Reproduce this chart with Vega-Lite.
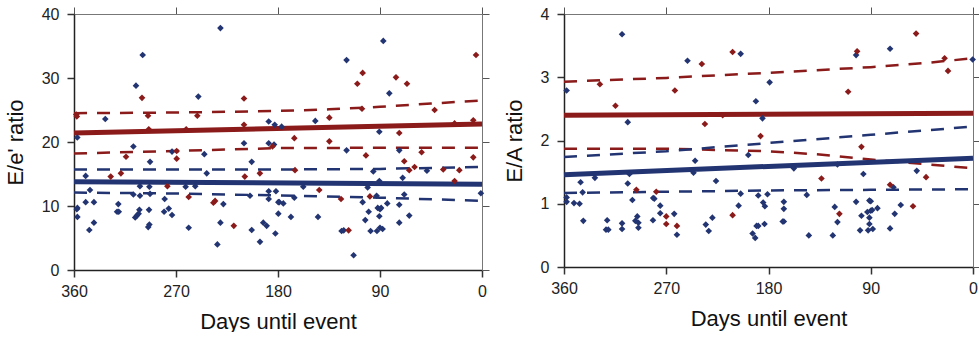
{
  "$schema": "https://vega.github.io/schema/vega-lite/v6.json",
  "background": "white",
  "padding": {"left": 4, "top": 6, "right": 0, "bottom": 0},
  "config": {
    "view": {"stroke": null},
    "font": "Liberation Sans",
    "axis": {
      "grid": false,
      "labelFont": "Liberation Sans", "labelFontSize": 16, "labelColor": "#222", "labelPadding": 6, "labelFlush": false,
      "titleFont": "Liberation Sans", "titleFontSize": 22, "titleFontWeight": "normal", "titleColor": "#111",
      "tickSize": 7, "tickColor": "#333", "tickWidth": 1.5,
      "domainColor": "#222", "domainWidth": 1.5
    }
  },
  "datasets": {
    "ee_pts": [
      {"d":357.1,"v":20.7,"g":"1"},{"d":357,"v":9.7,"g":"1"},{"d":357.5,"v":9.5,"g":"1"},{"d":357,"v":8.3,"g":"1"},{"d":349.7,"v":14.7,"g":"1"},{"d":349.7,"v":10.6,"g":"1"},{"d":345.9,"v":12.5,"g":"1"},{"d":346.5,"v":6.25,"g":"1"},{"d":342.4,"v":10.6,"g":"1"},{"d":342.4,"v":7.4,"g":"1"},
      {"d":332.4,"v":23.6,"g":"1"},{"d":320.9,"v":10.3,"g":"1"},{"d":322,"v":9.1,"g":"1"},{"d":320.5,"v":9.1,"g":"1"},{"d":307.6,"v":19.3,"g":"1"},{"d":305.3,"v":28.8,"g":"1"},{"d":299.4,"v":33.6,"g":"1"},{"d":307.6,"v":11.8,"g":"1"},{"d":301.8,"v":13.1,"g":"1"},{"d":301.8,"v":11.6,"g":"1"},
      {"d":302.3,"v":9.4,"g":"1"},{"d":306,"v":8.2,"g":"1"},{"d":304.5,"v":8.5,"g":"1"},{"d":303,"v":8.8,"g":"1"},{"d":293.5,"v":13.0,"g":"1"},{"d":292.9,"v":16.9,"g":"1"},{"d":292.9,"v":11.9,"g":"1"},{"d":293.8,"v":9.4,"g":"1"},{"d":294.5,"v":6.7,"g":"1"},{"d":293.5,"v":7.1,"g":"1"},
      {"d":280,"v":11.1,"g":"1"},{"d":280.5,"v":9.1,"g":"1"},{"d":276.4,"v":9.6,"g":"1"},{"d":273.5,"v":8.6,"g":"1"},{"d":273.5,"v":18.5,"g":"1"},{"d":261.5,"v":13.0,"g":"1"},{"d":253,"v":13.1,"g":"1"},{"d":258.8,"v":6.6,"g":"1"},{"d":250.3,"v":27.1,"g":"1"},{"d":245,"v":18.1,"g":"1"},
      {"d":242.9,"v":15.1,"g":"1"},{"d":230.8,"v":37.8,"g":"1"},{"d":230.8,"v":7.4,"g":"1"},{"d":228.2,"v":10.3,"g":"1"},{"d":233.5,"v":4.0,"g":"1"},{"d":210,"v":19.8,"g":"1"},{"d":203.2,"v":16.9,"g":"1"},{"d":204.7,"v":11.6,"g":"1"},{"d":203.2,"v":6.25,"g":"1"},{"d":195.9,"v":4.4,"g":"1"},
      {"d":193,"v":7.4,"g":"1"},{"d":190,"v":6.9,"g":"1"},{"d":188.2,"v":23.2,"g":"1"},{"d":188.2,"v":19.8,"g":"1"},{"d":182.9,"v":22.7,"g":"1"},{"d":188.2,"v":12.3,"g":"1"},{"d":188.2,"v":11.1,"g":"1"},{"d":181.8,"v":12.3,"g":"1"},{"d":179.7,"v":10.6,"g":"1"},{"d":179.7,"v":8.8,"g":"1"},
      {"d":182.3,"v":5.7,"g":"1"},{"d":183.5,"v":19.6,"g":"1"},{"d":176.8,"v":22.4,"g":"1"},{"d":147.1,"v":23.3,"g":"1"},{"d":119.5,"v":32.8,"g":"1"},{"d":119.5,"v":18.7,"g":"1"},{"d":90.6,"v":21.6,"g":"1"},{"d":87.1,"v":35.8,"g":"1"},{"d":81.8,"v":27.6,"g":"1"},{"d":73,"v":18.7,"g":"1"},
      {"d":70,"v":14.4,"g":"1"},{"d":68.6,"v":11.8,"g":"1"},{"d":178.9,"v":10.6,"g":"1"},{"d":175.3,"v":10.4,"g":"1"},{"d":168.6,"v":8.3,"g":"1"},{"d":165.6,"v":11.3,"g":"1"},{"d":157.7,"v":13.0,"g":"1"},{"d":144.7,"v":8.3,"g":"1"},{"d":123.9,"v":6.1,"g":"1"},{"d":122,"v":6.2,"g":"1"},
      {"d":113.3,"v":2.3,"g":"1"},{"d":105.3,"v":10.6,"g":"1"},{"d":100.9,"v":12.9,"g":"1"},{"d":100,"v":9.1,"g":"1"},{"d":103,"v":7.8,"g":"1"},{"d":98.3,"v":6.1,"g":"1"},{"d":95.9,"v":15.4,"g":"1"},{"d":93,"v":11.6,"g":"1"},{"d":92,"v":9.7,"g":"1"},{"d":90,"v":9.5,"g":"1"},
      {"d":89,"v":9.7,"g":"1"},{"d":90.6,"v":8.4,"g":"1"},{"d":92.7,"v":6.1,"g":"1"},{"d":90,"v":6.6,"g":"1"},{"d":87.7,"v":6.4,"g":"1"},{"d":90.6,"v":13.9,"g":"1"},{"d":83.6,"v":10.4,"g":"1"},{"d":73,"v":10.2,"g":"1"},{"d":73,"v":7.4,"g":"1"},{"d":64.2,"v":8.5,"g":"1"},
      {"d":48.6,"v":15.5,"g":"1"},{"d":1,"v":12.0,"g":"1"},
      {"d":358,"v":24.3,"g":"2"},{"d":357.5,"v":24.0,"g":"2"},{"d":300,"v":26.9,"g":"2"},{"d":294.7,"v":24.1,"g":"2"},{"d":294,"v":22.0,"g":"2"},{"d":261,"v":22.0,"g":"2"},{"d":314.1,"v":17.7,"g":"2"},{"d":318.6,"v":15.1,"g":"2"},{"d":327.6,"v":14.6,"g":"2"},{"d":277.6,"v":13.1,"g":"2"},
      {"d":269.4,"v":18.6,"g":"2"},{"d":269.4,"v":17.4,"g":"2"},{"d":258.8,"v":11.4,"g":"2"},{"d":251.2,"v":24.1,"g":"2"},{"d":237,"v":10.5,"g":"2"},{"d":235.5,"v":10.8,"g":"2"},{"d":219,"v":6.9,"g":"2"},{"d":210,"v":26.8,"g":"2"},{"d":210,"v":22.7,"g":"2"},{"d":209.3,"v":14.6,"g":"2"},
      {"d":196,"v":15.1,"g":"2"},{"d":184.9,"v":19.3,"g":"2"},{"d":165.6,"v":20.6,"g":"2"},{"d":165,"v":15.6,"g":"2"},{"d":143.6,"v":12.5,"g":"2"},{"d":134.7,"v":23.8,"g":"2"},{"d":134.7,"v":20.1,"g":"2"},{"d":124.4,"v":11.1,"g":"2"},{"d":117.7,"v":6.2,"g":"2"},{"d":110,"v":29.1,"g":"2"},
      {"d":105.3,"v":30.8,"g":"2"},{"d":105.9,"v":25.2,"g":"2"},{"d":102.4,"v":17.9,"g":"2"},{"d":98.9,"v":11.5,"g":"2"},{"d":75.9,"v":30.1,"g":"2"},{"d":66.2,"v":29.1,"g":"2"},{"d":73,"v":21.4,"g":"2"},{"d":68.6,"v":17.0,"g":"2"},{"d":64.2,"v":15.6,"g":"2"},{"d":59.5,"v":16.1,"g":"2"},
      {"d":53.3,"v":18.4,"g":"2"},{"d":41.8,"v":25.0,"g":"2"},{"d":34.2,"v":15.7,"g":"2"},{"d":24.2,"v":13.9,"g":"2"},{"d":24.2,"v":22.9,"g":"2"},{"d":20,"v":15.6,"g":"2"},{"d":7.7,"v":23.4,"g":"2"},{"d":7.7,"v":17.6,"g":"2"},{"d":5.3,"v":33.6,"g":"2"}
    ],
    "ee_lines": [
      {"d":360,"v":21.4,"g":"2","k":"fit"},{"d":0,"v":22.8,"g":"2","k":"fit"},
      {"d":360,"v":24.5,"g":"2","k":"hi"},{"d":270,"v":24.6,"g":"2","k":"hi"},{"d":180,"v":24.85,"g":"2","k":"hi"},{"d":135,"v":25.1,"g":"2","k":"hi"},{"d":90,"v":25.5,"g":"2","k":"hi"},{"d":45,"v":26.0,"g":"2","k":"hi"},{"d":0,"v":26.5,"g":"2","k":"hi"},
      {"d":360,"v":18.2,"g":"2","k":"lo"},{"d":270,"v":18.6,"g":"2","k":"lo"},{"d":180,"v":19.05,"g":"2","k":"lo"},{"d":90,"v":19.1,"g":"2","k":"lo"},{"d":0,"v":19.1,"g":"2","k":"lo"},
      {"d":360,"v":13.8,"g":"1","k":"fit"},{"d":0,"v":13.4,"g":"1","k":"fit"},
      {"d":360,"v":15.7,"g":"1","k":"hi"},{"d":180,"v":15.7,"g":"1","k":"hi"},{"d":90,"v":15.8,"g":"1","k":"hi"},{"d":0,"v":16.1,"g":"1","k":"hi"},
      {"d":360,"v":12.1,"g":"1","k":"lo"},{"d":270,"v":11.95,"g":"1","k":"lo"},{"d":180,"v":11.65,"g":"1","k":"lo"},{"d":90,"v":11.3,"g":"1","k":"lo"},{"d":0,"v":10.8,"g":"1","k":"lo"}
    ],
    "ea_pts": [
      {"d":357.7,"v":2.79,"g":"1"},{"d":308.9,"v":3.68,"g":"1"},{"d":303.9,"v":2.29,"g":"1"},{"d":251.3,"v":3.26,"g":"1"},{"d":204.5,"v":3.37,"g":"1"},{"d":191.1,"v":2.62,"g":"1"},{"d":185.3,"v":2.35,"g":"1"},{"d":197.8,"v":1.77,"g":"1"},{"d":244.6,"v":1.68,"g":"1"},{"d":246,"v":1.49,"g":"1"},
      {"d":302.4,"v":1.47,"g":"1"},{"d":303.9,"v":1.32,"g":"1"},{"d":332.8,"v":1.41,"g":"1"},{"d":345.4,"v":1.34,"g":"1"},{"d":343.6,"v":1.18,"g":"1"},{"d":357.7,"v":1.10,"g":"1"},{"d":357.7,"v":1.03,"g":"1"},{"d":351.2,"v":1.01,"g":"1"},{"d":346.3,"v":1.0,"g":"1"},{"d":343,"v":0.73,"g":"1"},
      {"d":322,"v":0.74,"g":"1"},{"d":323,"v":0.59,"g":"1"},{"d":321,"v":0.59,"g":"1"},{"d":308.9,"v":0.69,"g":"1"},{"d":308.9,"v":0.60,"g":"1"},{"d":299.8,"v":1.06,"g":"1"},{"d":297.2,"v":0.73,"g":"1"},{"d":295.5,"v":0.80,"g":"1"},{"d":294.5,"v":0.70,"g":"1"},{"d":294.5,"v":0.62,"g":"1"},
      {"d":281.7,"v":0.74,"g":"1"},{"d":281.5,"v":1.09,"g":"1"},{"d":280.5,"v":1.08,"g":"1"},{"d":275.3,"v":0.97,"g":"1"},{"d":275.3,"v":0.85,"g":"1"},{"d":263,"v":0.84,"g":"1"},{"d":260.6,"v":0.51,"g":"1"},{"d":235.2,"v":0.67,"g":"1"},{"d":232.6,"v":0.57,"g":"1"},{"d":229.4,"v":0.78,"g":"1"},
      {"d":226.2,"v":1.36,"g":"1"},{"d":206.3,"v":0.97,"g":"1"},{"d":204.5,"v":1.16,"g":"1"},{"d":189,"v":1.13,"g":"1"},{"d":184.7,"v":1.02,"g":"1"},{"d":183.2,"v":0.96,"g":"1"},{"d":180.9,"v":1.15,"g":"1"},{"d":183.5,"v":0.68,"g":"1"},{"d":194,"v":0.53,"g":"1"},{"d":191.7,"v":0.46,"g":"1"},
      {"d":190.5,"v":0.65,"g":"1"},{"d":189,"v":0.65,"g":"1"},{"d":179,"v":2.92,"g":"1"},{"d":102.9,"v":3.35,"g":"1"},{"d":73,"v":3.45,"g":"1"},{"d":0.3,"v":3.28,"g":"1"},{"d":157.7,"v":1.56,"g":"1"},{"d":119.3,"v":1.62,"g":"1"},{"d":96.5,"v":1.47,"g":"1"},{"d":49.5,"v":1.52,"g":"1"},
      {"d":70,"v":1.26,"g":"1"},{"d":166.5,"v":1.03,"g":"1"},{"d":166.5,"v":0.92,"g":"1"},{"d":167.5,"v":0.72,"g":"1"},{"d":166.5,"v":0.72,"g":"1"},{"d":146.3,"v":1.14,"g":"1"},{"d":144.5,"v":0.50,"g":"1"},{"d":123.4,"v":0.50,"g":"1"},{"d":121.7,"v":0.95,"g":"1"},{"d":119.3,"v":0.71,"g":"1"},
      {"d":102.9,"v":1.03,"g":"1"},{"d":98.2,"v":0.81,"g":"1"},{"d":99.4,"v":0.58,"g":"1"},{"d":91.2,"v":1.05,"g":"1"},{"d":90,"v":1.04,"g":"1"},{"d":93,"v":0.87,"g":"1"},{"d":90,"v":0.89,"g":"1"},{"d":88.8,"v":0.90,"g":"1"},{"d":91.2,"v":0.78,"g":"1"},{"d":91.2,"v":0.68,"g":"1"},
      {"d":92.3,"v":0.58,"g":"1"},{"d":88.2,"v":0.60,"g":"1"},{"d":84.1,"v":0.93,"g":"1"},{"d":73,"v":0.61,"g":"1"},{"d":68.9,"v":0.84,"g":"1"},{"d":63.6,"v":0.98,"g":"1"},
      {"d":328.4,"v":2.89,"g":"2"},{"d":314.7,"v":2.55,"g":"2"},{"d":262.4,"v":2.79,"g":"2"},{"d":238.7,"v":3.21,"g":"2"},{"d":236,"v":2.26,"g":"2"},{"d":211.6,"v":3.40,"g":"2"},{"d":220.3,"v":2.40,"g":"2"},{"d":187,"v":2.07,"g":"2"},{"d":296.3,"v":1.22,"g":"2"},{"d":278.8,"v":1.19,"g":"2"},
      {"d":270,"v":0.80,"g":"2"},{"d":270,"v":0.68,"g":"2"},{"d":260.6,"v":0.65,"g":"2"},{"d":211.6,"v":0.82,"g":"2"},{"d":102,"v":3.41,"g":"2"},{"d":50.1,"v":3.69,"g":"2"},{"d":22,"v":3.10,"g":"2"},{"d":25,"v":3.30,"g":"2"},{"d":109.9,"v":2.77,"g":"2"},{"d":98.2,"v":1.90,"g":"2"},
      {"d":133.4,"v":1.40,"g":"2"},{"d":41.3,"v":1.42,"g":"2"},{"d":73,"v":1.30,"g":"2"},{"d":117.6,"v":0.84,"g":"2"},{"d":52.8,"v":0.96,"g":"2"}
    ],
    "ea_lines": [
      {"d":360,"v":2.40,"g":"2","k":"fit"},{"d":0,"v":2.43,"g":"2","k":"fit"},
      {"d":360,"v":2.93,"g":"2","k":"hi"},{"d":270,"v":2.99,"g":"2","k":"hi"},{"d":180,"v":3.07,"g":"2","k":"hi"},{"d":90,"v":3.16,"g":"2","k":"hi"},{"d":45,"v":3.22,"g":"2","k":"hi"},{"d":0,"v":3.30,"g":"2","k":"hi"},
      {"d":360,"v":1.87,"g":"2","k":"lo"},{"d":270,"v":1.87,"g":"2","k":"lo"},{"d":180,"v":1.83,"g":"2","k":"lo"},{"d":135,"v":1.78,"g":"2","k":"lo"},{"d":90,"v":1.70,"g":"2","k":"lo"},{"d":45,"v":1.63,"g":"2","k":"lo"},{"d":0,"v":1.56,"g":"2","k":"lo"},
      {"d":360,"v":1.46,"g":"1","k":"fit"},{"d":0,"v":1.72,"g":"1","k":"fit"},
      {"d":360,"v":1.74,"g":"1","k":"hi"},{"d":270,"v":1.83,"g":"1","k":"hi"},{"d":180,"v":1.96,"g":"1","k":"hi"},{"d":90,"v":2.09,"g":"1","k":"hi"},{"d":0,"v":2.22,"g":"1","k":"hi"},
      {"d":360,"v":1.17,"g":"1","k":"lo"},{"d":270,"v":1.19,"g":"1","k":"lo"},{"d":180,"v":1.21,"g":"1","k":"lo"},{"d":90,"v":1.22,"g":"1","k":"lo"},{"d":0,"v":1.23,"g":"1","k":"lo"}
    ]
  },
  "bounds": "flush",
  "spacing": 82,
  "hconcat": [
    {
      "width": 408, "height": 256,
      "layer": [
        {
          "data": {"name": "ee_lines"},
          "transform": [{"filter": "datum.k !== 'fit'"}],
          "mark": {"type": "line", "strokeDash": [13, 10], "strokeWidth": 2.5},
          "encoding": {
            "x": {"field": "d", "type": "quantitative", "scale": {"domain": [0, 360], "reverse": true, "nice": false},
                  "axis": {"orient": "top", "labels": false, "title": null, "values": [0, 90, 180, 270, 360], "domainColor": "#777", "domainWidth": 1, "tickColor": "#555", "tickWidth": 1}},
            "y": {"field": "v", "type": "quantitative", "scale": {"domain": [0, 40], "nice": false},
                  "axis": {"orient": "right", "labels": false, "title": null, "values": [0, 10, 20, 30, 40], "domainColor": "#777", "domainWidth": 1, "tickColor": "#555", "tickWidth": 1}},
            "color": {"field": "g", "type": "nominal", "scale": {"domain": ["1", "2"], "range": ["#223472", "#8b1a1a"]}, "legend": null},
            "detail": {"field": "k", "type": "nominal"}
          }
        },
        {
          "data": {"name": "ee_lines"},
          "transform": [{"filter": "datum.k === 'fit'"}],
          "mark": {"type": "line", "strokeWidth": 5},
          "encoding": {
            "x": {"field": "d", "type": "quantitative", "axis": null},
            "y": {"field": "v", "type": "quantitative", "axis": null},
            "color": {"field": "g", "type": "nominal", "legend": null},
            "detail": {"field": "k", "type": "nominal"}
          }
        },
        {
          "data": {"name": "ee_pts"},
          "mark": {"type": "point", "shape": "diamond", "filled": true, "size": 44, "opacity": 1},
          "encoding": {
            "x": {"field": "d", "type": "quantitative", "axis": {"orient": "bottom", "title": "Days until event", "values": [0, 90, 180, 270, 360], "titlePadding": 12}},
            "y": {"field": "v", "type": "quantitative", "axis": {"orient": "left", "title": "E/e' ratio", "values": [0, 10, 20, 30, 40], "labelPadding": 8, "titlePadding": 14}},
            "color": {"field": "g", "type": "nominal", "legend": null}
          }
        }
      ],
      "resolve": {"axis": {"x": "independent", "y": "independent"}}
    },
    {
      "width": 409, "height": 253,
      "layer": [
        {
          "data": {"name": "ea_lines"},
          "transform": [{"filter": "datum.k !== 'fit'"}],
          "mark": {"type": "line", "strokeDash": [13, 10], "strokeWidth": 2.5},
          "encoding": {
            "x": {"field": "d", "type": "quantitative", "scale": {"domain": [0, 360], "reverse": true, "nice": false},
                  "axis": {"orient": "top", "labels": false, "title": null, "values": [0, 90, 180, 270, 360], "domainColor": "#777", "domainWidth": 1, "tickColor": "#555", "tickWidth": 1}},
            "y": {"field": "v", "type": "quantitative", "scale": {"domain": [0, 4], "nice": false},
                  "axis": {"orient": "right", "labels": false, "title": null, "values": [0, 1, 2, 3, 4], "domainColor": "#777", "domainWidth": 1, "tickColor": "#555", "tickWidth": 1}},
            "color": {"field": "g", "type": "nominal", "scale": {"domain": ["1", "2"], "range": ["#223472", "#8b1a1a"]}, "legend": null},
            "detail": {"field": "k", "type": "nominal"}
          }
        },
        {
          "data": {"name": "ea_lines"},
          "transform": [{"filter": "datum.k === 'fit'"}],
          "mark": {"type": "line", "strokeWidth": 5},
          "encoding": {
            "x": {"field": "d", "type": "quantitative", "axis": null},
            "y": {"field": "v", "type": "quantitative", "axis": null},
            "color": {"field": "g", "type": "nominal", "legend": null},
            "detail": {"field": "k", "type": "nominal"}
          }
        },
        {
          "data": {"name": "ea_pts"},
          "mark": {"type": "point", "shape": "diamond", "filled": true, "size": 44, "opacity": 1},
          "encoding": {
            "x": {"field": "d", "type": "quantitative", "axis": {"orient": "bottom", "title": "Days until event", "values": [0, 90, 180, 270, 360], "titlePadding": 12}},
            "y": {"field": "v", "type": "quantitative", "axis": {"orient": "left", "title": "E/A ratio", "values": [0, 1, 2, 3, 4], "labelPadding": 8, "titlePadding": 14}},
            "color": {"field": "g", "type": "nominal", "legend": null}
          }
        }
      ],
      "resolve": {"axis": {"x": "independent", "y": "independent"}}
    }
  ]
}
